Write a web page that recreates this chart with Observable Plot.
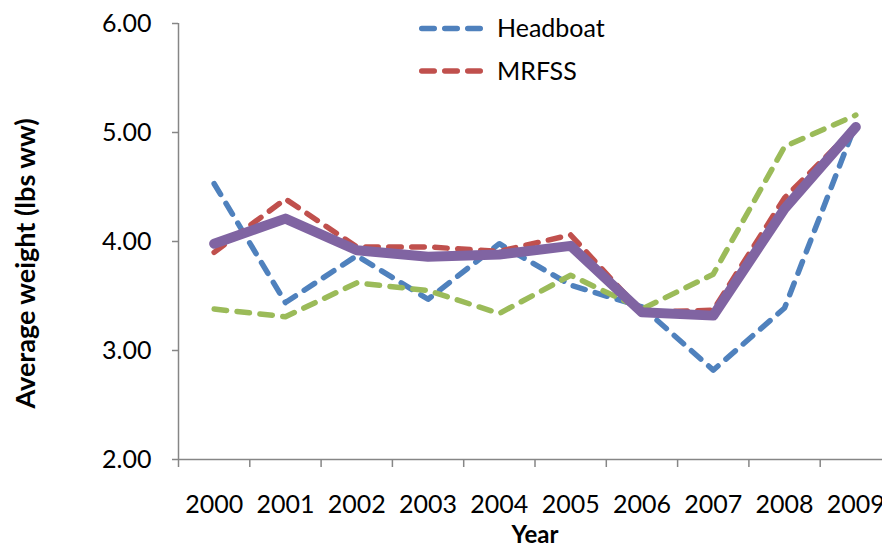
<!DOCTYPE html>
<html><head><meta charset="utf-8">
<script src="https://cdn.jsdelivr.net/npm/d3@7"></script>
<script src="https://cdn.jsdelivr.net/npm/@observablehq/plot@0.6"></script>
<style>
html,body{margin:0;padding:0;background:#fff;}
#chart{position:relative;width:882px;height:546px;overflow:hidden;font-family:Lato,sans-serif;}
#legend{position:absolute;left:0;top:0;pointer-events:none;}
</style></head><body><div id="chart"></div>
<script>
const years = [2000, 2001, 2002, 2003, 2004, 2005, 2006, 2007, 2008, 2009];
const headboat = [4.53, 3.44, 3.87, 3.47, 3.98, 3.60, 3.40, 2.82, 3.39, 5.08];
const mrfss    = [3.90, 4.39, 3.95, 3.95, 3.91, 4.06, 3.35, 3.37, 4.40, 5.05];
const series3  = [3.38, 3.31, 3.62, 3.55, 3.34, 3.69, 3.38, 3.70, 4.87, 5.16];
const combined = [3.98, 4.21, 3.92, 3.86, 3.88, 3.96, 3.35, 3.32, 4.30, 5.05];
const seriesNames = ["Headboat", "MRFSS", "Series 3", "Combined"];
const seriesValues = [headboat, mrfss, series3, combined];
const seriesColors = ["#4F81BD", "#C0504D", "#9BBB59", "#8064A2"];
const legendNames = ["Headboat", "MRFSS"];
const yTicks = [2, 3, 4, 5, 6];
const yTitle = "Average weight (lbs ww)";
const xTitle = "Year";

const data = seriesNames.flatMap((name, i) =>
  seriesValues[i].map((v, j) => ({year: years[j], value: v, series: name})));

const axisGray = "#868686";
const dash = "12.5,10.5";
const lineMarks = seriesNames.map((name, i) => {
  const solid = i === 3;
  return Plot.line(data.filter(d => d.series === name), {
    x: "year", y: "value", stroke: seriesColors[i],
    strokeWidth: solid ? 10 : 5.5,
    strokeDasharray: solid ? null : dash,
    strokeLinecap: "round", strokeLinejoin: "round"
  });
});

const chart = Plot.plot({
  width: 882, height: 546,
  marginLeft: 178, marginRight: -9, marginTop: 23, marginBottom: 87,
  style: {fontFamily: "Lato, sans-serif", background: "white", color: "black", overflow: "hidden"},
  x: {domain: [years[0] - 0.5, years[years.length - 1] + 0.5], range: [178, 891]},
  y: {domain: [yTicks[0], yTicks[yTicks.length - 1]]},
  marks: [
    Plot.ruleX([years[0] - 0.5], {stroke: axisGray, strokeWidth: 1.5}),
    Plot.ruleY([yTicks[0]], {stroke: axisGray, strokeWidth: 1.5}),
    Plot.axisY({ticks: yTicks, tickFormat: d => d.toFixed(2), tickSize: 6, tickPadding: 21,
      fontSize: 25, stroke: axisGray, strokeWidth: 1.5, fill: "black", label: null}),
    Plot.axisX({ticks: years.map(y => y - 0.5).concat([years[years.length - 1] + 0.5]), tickSize: 8,
      tickFormat: () => "", stroke: axisGray, strokeWidth: 1.5, label: null}),
    Plot.axisX({ticks: years, tickSize: 0, tickPadding: 36, tickFormat: d => String(d),
      fontSize: 25, fill: "black", label: null}),
    Plot.text([yTitle], {text: d => d, frameAnchor: "left", rotate: -90, dx: -152, dy: 22,
      textAnchor: "middle", fontSize: 27, fontWeight: "bold", fill: "black"}),
    Plot.text([xTitle], {text: d => d, frameAnchor: "bottom", dy: 66, lineAnchor: "top",
      textAnchor: "middle", fontSize: 24, fontWeight: "bold", fill: "black"}),
    ...lineMarks
  ]
});
const host = document.getElementById("chart");
host.appendChild(chart);

// legend (only the entries visible in the original)
const ns = "http://www.w3.org/2000/svg";
const leg = document.createElementNS(ns, "svg");
leg.setAttribute("id", "legend");
leg.setAttribute("width", 882);
leg.setAttribute("height", 100);
legendNames.forEach((name, i) => {
  const cy = 28.5 + i * 42.5;
  const ln = document.createElementNS(ns, "line");
  ln.setAttribute("x1", 421.75); ln.setAttribute("x2", 480.25);
  ln.setAttribute("y1", cy); ln.setAttribute("y2", cy);
  ln.setAttribute("stroke", seriesColors[seriesNames.indexOf(name)]);
  ln.setAttribute("stroke-width", 5.5);
  ln.setAttribute("stroke-dasharray", dash);
  ln.setAttribute("stroke-linecap", "round");
  leg.appendChild(ln);
  const tx = document.createElementNS(ns, "text");
  tx.setAttribute("x", 497); tx.setAttribute("y", cy + 8.5);
  tx.setAttribute("font-family", "Lato, sans-serif");
  tx.setAttribute("font-size", 25);
  tx.setAttribute("fill", "black");
  tx.textContent = name;
  leg.appendChild(tx);
});
host.appendChild(leg);
</script>
</body></html>
